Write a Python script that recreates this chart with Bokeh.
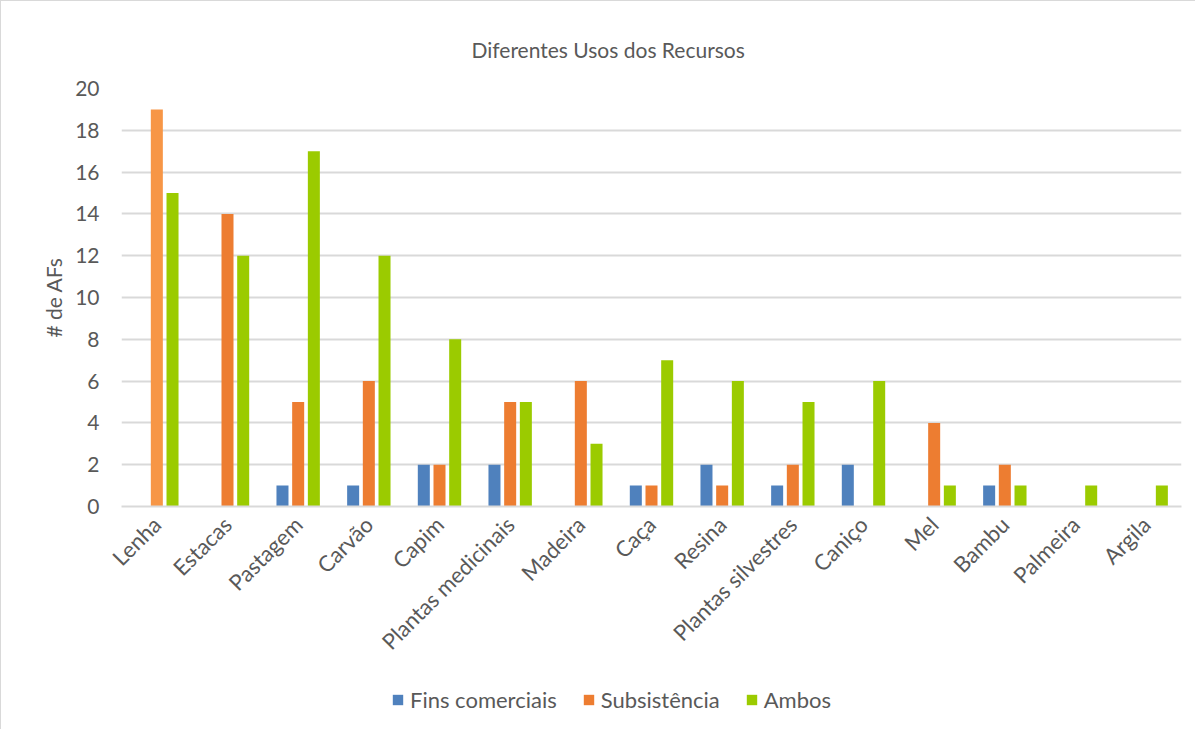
from bokeh.plotting import figure
from bokeh.models import ColumnDataSource, FactorRange, Legend, LegendItem
from bokeh.layouts import column
from bokeh.transform import dodge
from bokeh.embed import file_html
from bokeh.resources import INLINE
from math import pi

categories = ["Lenha", "Estacas", "Pastagem", "Carvão", "Capim", "Plantas medicinais",
              "Madeira", "Caça", "Resina", "Plantas silvestres", "Caniço", "Mel",
              "Bambu", "Palmeira", "Argila"]
fins_comerciais = [0, 0, 1, 1, 2, 2, 0, 1, 2, 1, 2, 0, 1, 0, 0]
subsistencia = [19, 14, 5, 6, 2, 5, 6, 1, 1, 2, 0, 4, 2, 0, 0]
ambos = [15, 12, 17, 12, 8, 5, 3, 7, 6, 5, 6, 1, 1, 1, 1]
series_names = ["Fins comerciais", "Subsistência", "Ambos"]
y_ticks = [0, 2, 4, 6, 8, 10, 12, 14, 16, 18, 20]

BLUE = "#4F81BD"
ORANGE = "#ED7D31"
GREEN = "#9BCB00"
orange_colors = ["#F79646"] + [ORANGE] * (len(categories) - 1)

src = ColumnDataSource(dict(cat=categories, fc=fins_comerciais, sub=subsistencia,
                            amb=ambos, ocol=orange_colors))

FONT = "Lato"
GREY = "#595959"
BORDER = "1px solid #D9D9D9"

p = figure(x_range=FactorRange(*categories, range_padding=0), y_range=(0, 20),
           width=1195, height=680, output_backend="svg", toolbar_location=None,
           min_border_left=120, min_border_right=15, min_border_top=87, min_border_bottom=175,
           background_fill_color="white", border_fill_color="white")
p.outline_line_color = None
p.styles = {"border-top": BORDER, "border-left": BORDER, "box-sizing": "border-box"}

p.title.text = "Diferentes Usos dos Recursos"
p.title.align = "left"
p.title.offset = 350
p.title.standoff = 53
p.title.text_font = FONT
p.title.text_font_size = "21px"
p.title.text_font_style = "normal"
p.title.text_color = GREY

off = 0.222
w = 0.17
p.vbar(x=dodge("cat", -off, range=p.x_range), top="fc", width=w, source=src,
       fill_color=BLUE, line_color=None)
p.vbar(x=dodge("cat", 0, range=p.x_range), top="sub", width=w, source=src,
       fill_color="ocol", line_color=None)
p.vbar(x=dodge("cat", off, range=p.x_range), top="amb", width=w, source=src,
       fill_color=GREEN, line_color=None)

p.xgrid.grid_line_color = None
p.ygrid.grid_line_color = "#D9D9D9"
p.ygrid.grid_line_width = 2
p.yaxis.ticker = y_ticks

p.yaxis.axis_line_color = None
p.yaxis.major_tick_line_color = None
p.yaxis.minor_tick_line_color = None
p.yaxis.major_label_text_font = FONT
p.yaxis.major_label_text_font_size = "21px"
p.yaxis.major_label_text_color = GREY
p.yaxis.major_label_standoff = 16
p.yaxis.axis_label = "# de AFs"
p.yaxis.axis_label_text_font = FONT
p.yaxis.axis_label_text_font_size = "21px"
p.yaxis.axis_label_text_font_style = "normal"
p.yaxis.axis_label_text_color = GREY
p.yaxis.axis_label_standoff = 6

p.xaxis.axis_line_color = "#D9D9D9"
p.xaxis.axis_line_width = 2
p.xaxis.major_tick_line_color = None
p.xaxis.minor_tick_line_color = None
p.xaxis.major_label_orientation = pi / 4
p.xaxis.major_label_text_font = FONT
p.xaxis.major_label_text_font_size = "22px"
p.xaxis.major_label_text_color = GREY
p.xaxis.major_label_standoff = 8

# legend strip below the chart
lg = figure(width=1195, height=49, x_range=(0, 1), y_range=(0, 1),
            output_backend="svg", toolbar_location=None,
            x_axis_type=None, y_axis_type=None,
            min_border_left=0, min_border_right=0, min_border_top=0, min_border_bottom=0,
            background_fill_color="white", border_fill_color="white")
lg.outline_line_color = None
lg.grid.grid_line_color = None
lg.styles = {"border-left": BORDER, "box-sizing": "border-box"}
proxies = [lg.vbar(x=[0.5], top=[0], bottom=[0], width=0.0, fill_color=c, line_color=None)
           for c in (BLUE, ORANGE, GREEN)]
legend = Legend(items=[LegendItem(label=n, renderers=[r]) for n, r in zip(series_names, proxies)],
                orientation="horizontal", location=(270, 16),
                glyph_width=13, glyph_height=13, spacing=25, padding=4, margin=0,
                label_standoff=6,
                label_text_font=FONT, label_text_font_size="22px",
                label_text_color=GREY, border_line_color=None,
                background_fill_alpha=0)
lg.add_layout(legend)

layout = column(p, lg, spacing=0)
open("out.html", "w").write(file_html(layout, INLINE))
